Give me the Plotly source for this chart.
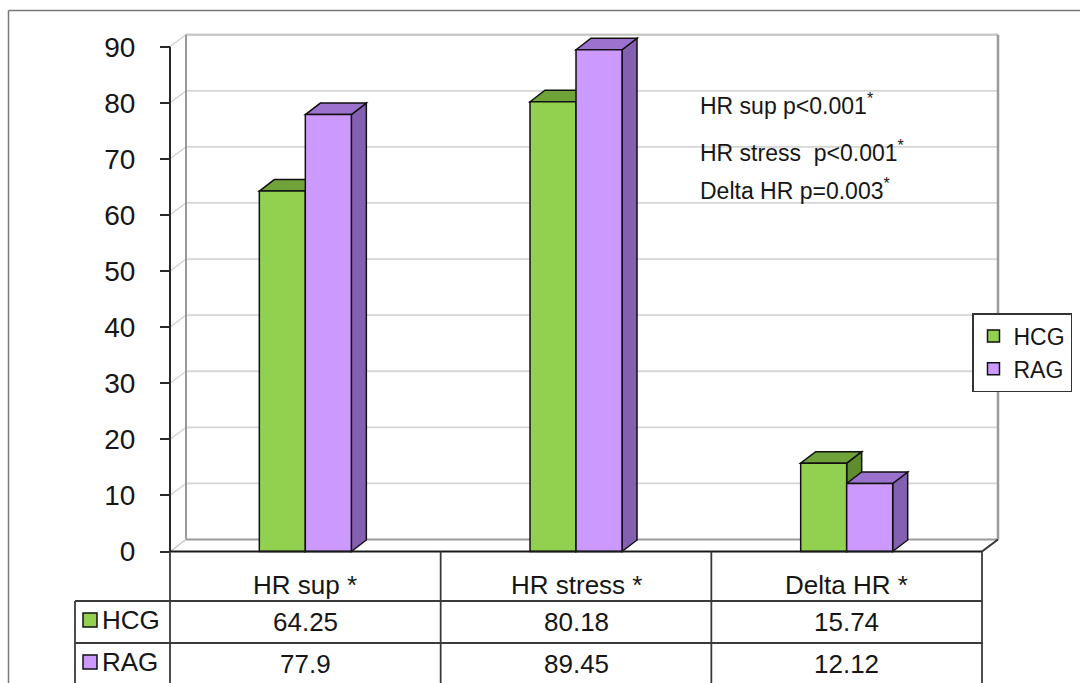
import plotly.graph_objects as go

# ---- data ----
categories = ["HR sup *", "HR stress *", "Delta HR *"]
series_names = ["HCG", "RAG"]
hcg_values = [64.25, 80.18, 15.74]
rag_values = [77.9, 89.45, 12.12]
y_ticks = [0, 10, 20, 30, 40, 50, 60, 70, 80, 90]
p_notes = [
    "HR sup p<0.001<sup>*</sup>",
    "HR stress  p<0.001<sup>*</sup>",
    "Delta HR p=0.003<sup>*</sup>",
]

# ---- page geometry (pixels) ----
W, H = 1080, 683
X0_PX = 170.0      # front-left corner of the floor
CAT_PX = 270.67    # width of one category slot
Y0_PX = 551.5      # front floor edge (value 0)
UNIT_PX = 5.609    # pixels per unit of value


def xv(px):
    return -0.5 + (px - X0_PX) / CAT_PX


def yv(py):
    return (Y0_PX - py) / UNIT_PX


BAR_W = 46 / CAT_PX
WALL_DX, WALL_DY = 16 / CAT_PX, 12 / UNIT_PX
BAR_DX, BAR_DY = 15 / CAT_PX, 11.5 / UNIT_PX
Y_MAX = y_ticks[-1]
N = len(categories)
pos = list(range(N))

colors = {
    "HCG": {"front": "#92d050", "top": "#6fa33a", "side": "#5e8c2f"},
    "RAG": {"front": "#cc99ff", "top": "#9c72cf", "side": "#8460b0"},
}
FONT = "Arial, Liberation Sans, sans-serif"
TXT = "#161616"

shapes = []


def seg(x0, y0, x1, y1, color, width, layer="below", ref="x"):
    shapes.append(dict(type="line", xref=ref, yref="y" if ref == "x" else "paper",
                       x0=x0, y0=y0, x1=x1, y1=y1, layer=layer,
                       line=dict(color=color, width=width)))


def poly(points, fill, layer="below"):
    d = "M " + " L ".join(f"{px},{py}" for px, py in points) + " Z"
    shapes.append(dict(type="path", xref="x", yref="y", path=d, layer=layer,
                       fillcolor=fill, line=dict(color="#111111", width=1.5)))


# ---- 3-D walls: back wall grid, side wall diagonals, floor ----
left, right = -0.5, N - 0.5
GRID = "#d6d6d6"
EDGE = "#9a9a9a"
for t in y_ticks[1:]:
    seg(left + WALL_DX, t + WALL_DY, right + WALL_DX, t + WALL_DY, GRID, 1.8)
    seg(left, t, left + WALL_DX, t + WALL_DY, GRID, 1.5)
seg(left + WALL_DX, Y_MAX + WALL_DY, right + WALL_DX, Y_MAX + WALL_DY, "#c4c4c4", 2)
seg(left + WALL_DX, WALL_DY, left + WALL_DX, Y_MAX + WALL_DY, EDGE, 2)
seg(right + WALL_DX, WALL_DY, right + WALL_DX, Y_MAX + WALL_DY, EDGE, 2.5)
seg(left + WALL_DX, WALL_DY, right + WALL_DX, WALL_DY, EDGE, 2)
seg(left, 0, left + WALL_DX, WALL_DY, "#c4c4c4", 1.5)
seg(right, 0, right + WALL_DX, WALL_DY, "#333333", 2)

# ---- side and top faces of the 3-D columns (fronts are bar traces) ----
for name, vals, off in (("HCG", hcg_values, -BAR_W), ("RAG", rag_values, 0.0)):
    c = colors[name]
    for i, v in enumerate(vals):
        x0 = pos[i] + off
        x1 = x0 + BAR_W
        poly([(x1, 0), (x1 + BAR_DX, BAR_DY), (x1 + BAR_DX, v + BAR_DY), (x1, v)], c["side"])
        poly([(x0, v), (x0 + BAR_DX, v + BAR_DY), (x1 + BAR_DX, v + BAR_DY), (x1, v)], c["top"])

fig = go.Figure()
for name, vals, off in (("HCG", hcg_values, -BAR_W), ("RAG", rag_values, 0.0)):
    fig.add_trace(go.Bar(
        x=pos, y=vals, name=name, width=BAR_W, offset=off,
        marker=dict(color=colors[name]["front"], line=dict(color="#111111", width=1.5)),
        hoverinfo="skip",
    ))

# ---- front value axis line ----
seg(left, 0, left, Y_MAX, "#2a2a2a", 2, layer="above")

# ---- data table under the plot ----
TLINE = "#3a3a3a"
seg(left, 0, right, 0, "#1a1a1a", 2.2, layer="above")
for py in (601, 643):
    seg(xv(75), yv(py), right, yv(py), TLINE, 1.8, layer="above")
for k in range(N + 1):
    seg(left + k, 0, left + k, yv(H + 5), TLINE, 1.8, layer="above")
seg(xv(75), yv(601), xv(75), yv(H + 5), TLINE, 1.8, layer="above")

annotations = []
for i, cat in enumerate(categories):
    annotations.append(dict(x=pos[i], y=yv(585), text=cat, showarrow=False,
                            xanchor="center", yanchor="middle",
                            font=dict(size=26, color=TXT, family=FONT)))
for row_y, vals in ((622, hcg_values), (664, rag_values)):
    for i, v in enumerate(vals):
        annotations.append(dict(x=pos[i], y=yv(row_y), text=str(v), showarrow=False,
                                xanchor="center", yanchor="middle",
                                font=dict(size=26, color=TXT, family=FONT)))
for name, row_y in (("HCG", 620), ("RAG", 662)):
    shapes.append(dict(type="rect", xref="x", yref="y", layer="above",
                       x0=xv(83), x1=xv(97), y0=yv(row_y - 7), y1=yv(row_y + 7),
                       fillcolor=colors[name]["front"], line=dict(color="#111111", width=1.5)))
    annotations.append(dict(x=xv(100), y=yv(row_y), text=name, showarrow=False,
                            xanchor="left", yanchor="middle",
                            font=dict(size=26, color=TXT, family=FONT)))

# ---- significance notes ----
for note, py in zip(p_notes, (104, 151, 189)):
    annotations.append(dict(x=xv(698), y=yv(py), text=note, showarrow=False,
                            xanchor="left", yanchor="middle",
                            font=dict(size=23, color=TXT, family=FONT)))

# ---- outer chart frame ----
seg(8.5 / W, 1 - 10.5 / H, 1.01, 1 - 10.5 / H, "#7a7a7a", 1.5, layer="above", ref="paper")
seg(8.5 / W, 1 - 10.5 / H, 8.5 / W, -0.01, "#7a7a7a", 1.5, layer="above", ref="paper")

fig.update_layout(
    width=W, height=H,
    margin=dict(l=0, r=0, t=0, b=0, pad=0, autoexpand=False),
    paper_bgcolor="white", plot_bgcolor="white",
    barmode="overlay",
    showlegend=True,
    legend=dict(x=972 / W, y=1 - 313 / H, xanchor="left", yanchor="top",
                bgcolor="white", bordercolor="#333333", borderwidth=1.5,
                font=dict(size=23, color=TXT, family=FONT),
                itemwidth=30, tracegroupgap=0),
    xaxis=dict(visible=False, range=[xv(0), xv(W)], fixedrange=True),
    yaxis=dict(range=[yv(H), yv(0)], anchor="free", position=X0_PX / W, side="left",
               tickvals=y_ticks, ticktext=[str(t) for t in y_ticks],
               ticks="outside", ticklen=10, tickwidth=1.5, tickcolor="#2a2a2a",
               ticklabelstandoff=19,
               tickfont=dict(size=28, color=TXT, family=FONT),
               showgrid=False, zeroline=False, showline=False, fixedrange=True),
    shapes=shapes,
    annotations=annotations,
)

fig.write_html("out.html")
